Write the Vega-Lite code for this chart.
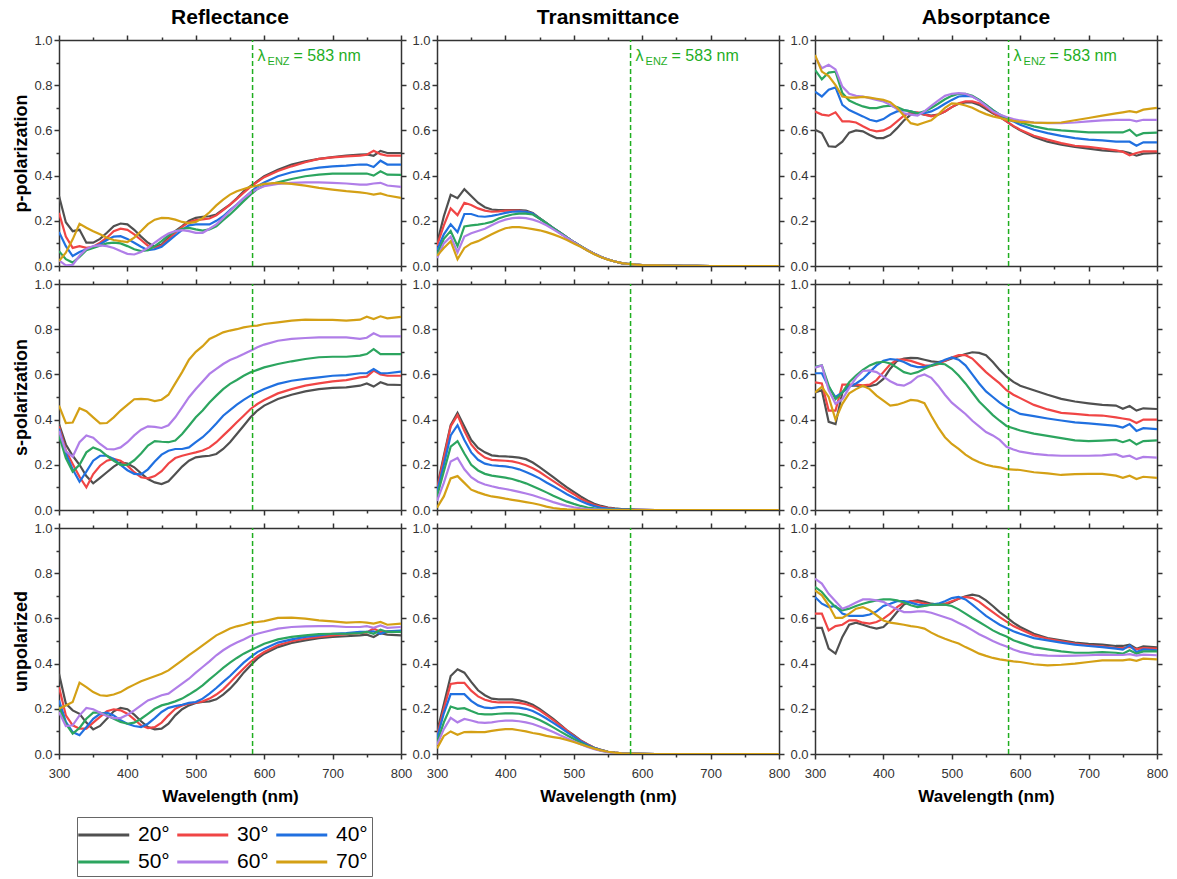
{
"$schema": "https://vega.github.io/schema/vega-lite/v6.json",
"padding": {"left": 12, "top": 7, "right": 10, "bottom": 0},
"config": {
 "font": "Liberation Sans",
 "view": {"stroke": null},
 "range": {"category": ["#505050", "#f04545", "#2070e0", "#2ca55f", "#b07ee8", "#d4a015"]},
 "axis": {"grid": false, "domainColor": "#333333", "domainWidth": 1.5, "tickColor": "#333333", "tickWidth": 1.5, "labelColor": "#333333", "labelFontSize": 13, "labelPadding": 2, "labelFlush": false, "labelOverlap": false, "titleFontSize": 17, "titleFontWeight": "bold", "titleColor": "#000000"},
 "axisX": {"titlePadding": 8, "labelPadding": 8},
 "axisY": {"titlePadding": 3, "titleFontSize": 18},
 "title": {"fontSize": 21, "fontWeight": "bold", "color": "#000000", "anchor": "middle", "offset": 6}
},
"datasets": {
"pR": [
{"w":300,"20°":0.31,"30°":0.235,"40°":0.15,"50°":0.066,"60°":0.025,"70°":0.022},
{"w":310,"20°":0.194,"30°":0.13,"40°":0.088,"50°":0.03,"60°":0.003,"70°":0.059},
{"w":320,"20°":0.154,"30°":0.08,"40°":0.044,"50°":0.015,"60°":0.005,"70°":0.118},
{"w":330,"20°":0.16,"30°":0.088,"40°":0.062,"50°":0.04,"60°":0.045,"70°":0.187},
{"w":340,"20°":0.103,"30°":0.08,"40°":0.074,"50°":0.07,"60°":0.075,"70°":0.169},
{"w":350,"20°":0.103,"30°":0.085,"40°":0.085,"50°":0.08,"60°":0.088,"70°":0.154},
{"w":360,"20°":0.12,"30°":0.103,"40°":0.096,"50°":0.09,"60°":0.091,"70°":0.14},
{"w":370,"20°":0.147,"30°":0.125,"40°":0.115,"50°":0.1,"60°":0.088,"70°":0.125},
{"w":380,"20°":0.176,"30°":0.154,"40°":0.13,"50°":0.103,"60°":0.08,"70°":0.115},
{"w":390,"20°":0.188,"30°":0.165,"40°":0.132,"50°":0.1,"60°":0.066,"70°":0.11},
{"w":400,"20°":0.184,"30°":0.16,"40°":0.12,"50°":0.088,"60°":0.054,"70°":0.106},
{"w":410,"20°":0.16,"30°":0.14,"40°":0.103,"50°":0.074,"60°":0.051,"70°":0.125},
{"w":420,"20°":0.13,"30°":0.115,"40°":0.085,"50°":0.066,"60°":0.062,"70°":0.155},
{"w":430,"20°":0.103,"30°":0.09,"40°":0.07,"50°":0.07,"60°":0.08,"70°":0.185},
{"w":440,"20°":0.085,"30°":0.08,"40°":0.074,"50°":0.088,"60°":0.103,"70°":0.205},
{"w":450,"20°":0.095,"30°":0.09,"40°":0.085,"50°":0.11,"60°":0.125,"70°":0.213},
{"w":460,"20°":0.125,"30°":0.118,"40°":0.11,"50°":0.135,"60°":0.144,"70°":0.212},
{"w":470,"20°":0.154,"30°":0.147,"40°":0.135,"50°":0.154,"60°":0.154,"70°":0.205},
{"w":480,"20°":0.176,"30°":0.173,"40°":0.16,"50°":0.165,"60°":0.159,"70°":0.195},
{"w":490,"20°":0.2,"30°":0.194,"40°":0.18,"50°":0.169,"60°":0.154,"70°":0.19},
{"w":500,"20°":0.213,"30°":0.203,"40°":0.184,"50°":0.162,"60°":0.147,"70°":0.195},
{"w":510,"20°":0.218,"30°":0.206,"40°":0.184,"50°":0.157,"60°":0.147,"70°":0.212},
{"w":520,"20°":0.22,"30°":0.21,"40°":0.184,"50°":0.162,"60°":0.165,"70°":0.238},
{"w":530,"20°":0.228,"30°":0.224,"40°":0.2,"50°":0.176,"60°":0.184,"70°":0.268},
{"w":540,"20°":0.25,"30°":0.247,"40°":0.22,"50°":0.203,"60°":0.213,"70°":0.294},
{"w":550,"20°":0.272,"30°":0.272,"40°":0.247,"50°":0.228,"60°":0.243,"70°":0.316},
{"w":560,"20°":0.3,"30°":0.297,"40°":0.272,"50°":0.257,"60°":0.272,"70°":0.331},
{"w":570,"20°":0.33,"30°":0.324,"40°":0.3,"50°":0.287,"60°":0.3,"70°":0.341},
{"w":580,"20°":0.353,"30°":0.35,"40°":0.326,"50°":0.316,"60°":0.324,"70°":0.35},
{"w":590,"20°":0.375,"30°":0.372,"40°":0.353,"50°":0.341,"60°":0.341,"70°":0.356},
{"w":600,"20°":0.397,"30°":0.393,"40°":0.37,"50°":0.356,"60°":0.353,"70°":0.363},
{"w":620,"20°":0.426,"30°":0.42,"40°":0.397,"50°":0.37,"60°":0.363,"70°":0.368},
{"w":640,"20°":0.449,"30°":0.441,"40°":0.415,"50°":0.385,"60°":0.368,"70°":0.363},
{"w":660,"20°":0.463,"30°":0.459,"40°":0.426,"50°":0.397,"60°":0.37,"70°":0.356},
{"w":680,"20°":0.474,"30°":0.474,"40°":0.435,"50°":0.404,"60°":0.37,"70°":0.346},
{"w":700,"20°":0.482,"30°":0.481,"40°":0.441,"50°":0.409,"60°":0.368,"70°":0.338},
{"w":720,"20°":0.488,"30°":0.485,"40°":0.444,"50°":0.409,"60°":0.365,"70°":0.331},
{"w":740,"20°":0.493,"30°":0.488,"40°":0.449,"50°":0.409,"60°":0.36,"70°":0.326},
{"w":750,"20°":0.494,"30°":0.492,"40°":0.449,"50°":0.409,"60°":0.36,"70°":0.322},
{"w":760,"20°":0.488,"30°":0.51,"40°":0.438,"50°":0.4,"60°":0.365,"70°":0.316},
{"w":770,"20°":0.509,"30°":0.495,"40°":0.466,"50°":0.419,"60°":0.368,"70°":0.321},
{"w":780,"20°":0.5,"30°":0.488,"40°":0.449,"50°":0.404,"60°":0.356,"70°":0.312},
{"w":800,"20°":0.5,"30°":0.488,"40°":0.449,"50°":0.403,"60°":0.35,"70°":0.301}
],
"pT": [
{"w":300,"20°":0.1,"30°":0.09,"40°":0.07,"50°":0.05,"60°":0.035,"70°":0.045},
{"w":310,"20°":0.22,"30°":0.18,"40°":0.14,"50°":0.12,"60°":0.1,"70°":0.08},
{"w":320,"20°":0.315,"30°":0.255,"40°":0.185,"50°":0.155,"60°":0.13,"70°":0.11},
{"w":330,"20°":0.3,"30°":0.225,"40°":0.15,"50°":0.088,"60°":0.06,"70°":0.03},
{"w":340,"20°":0.34,"30°":0.28,"40°":0.23,"50°":0.175,"60°":0.13,"70°":0.08},
{"w":350,"20°":0.31,"30°":0.27,"40°":0.23,"50°":0.18,"60°":0.145,"70°":0.1},
{"w":360,"20°":0.28,"30°":0.255,"40°":0.22,"50°":0.183,"60°":0.155,"70°":0.11},
{"w":370,"20°":0.26,"30°":0.245,"40°":0.218,"50°":0.188,"60°":0.165,"70°":0.125},
{"w":380,"20°":0.25,"30°":0.24,"40°":0.222,"50°":0.195,"60°":0.18,"70°":0.14},
{"w":390,"20°":0.247,"30°":0.242,"40°":0.228,"50°":0.21,"60°":0.195,"70°":0.155},
{"w":400,"20°":0.247,"30°":0.245,"40°":0.235,"50°":0.22,"60°":0.205,"70°":0.167},
{"w":410,"20°":0.247,"30°":0.245,"40°":0.24,"50°":0.228,"60°":0.212,"70°":0.172},
{"w":420,"20°":0.247,"30°":0.245,"40°":0.242,"50°":0.232,"60°":0.214,"70°":0.172},
{"w":430,"20°":0.245,"30°":0.24,"40°":0.24,"50°":0.232,"60°":0.212,"70°":0.168},
{"w":440,"20°":0.235,"30°":0.232,"40°":0.232,"50°":0.228,"60°":0.205,"70°":0.163},
{"w":450,"20°":0.212,"30°":0.21,"40°":0.21,"50°":0.21,"60°":0.195,"70°":0.158},
{"w":460,"20°":0.19,"30°":0.19,"40°":0.19,"50°":0.19,"60°":0.18,"70°":0.15},
{"w":470,"20°":0.168,"30°":0.168,"40°":0.168,"50°":0.168,"60°":0.162,"70°":0.14},
{"w":480,"20°":0.147,"30°":0.147,"40°":0.147,"50°":0.147,"60°":0.143,"70°":0.128},
{"w":490,"20°":0.126,"30°":0.126,"40°":0.126,"50°":0.126,"60°":0.124,"70°":0.115},
{"w":500,"20°":0.106,"30°":0.106,"40°":0.106,"50°":0.106,"60°":0.105,"70°":0.1},
{"w":510,"20°":0.088,"30°":0.088,"40°":0.088,"50°":0.088,"60°":0.087,"70°":0.085},
{"w":520,"20°":0.07,"30°":0.07,"40°":0.07,"50°":0.07,"60°":0.07,"70°":0.068},
{"w":530,"20°":0.054,"30°":0.054,"40°":0.054,"50°":0.054,"60°":0.054,"70°":0.052},
{"w":540,"20°":0.04,"30°":0.04,"40°":0.04,"50°":0.04,"60°":0.04,"70°":0.039},
{"w":550,"20°":0.029,"30°":0.029,"40°":0.029,"50°":0.029,"60°":0.029,"70°":0.028},
{"w":560,"20°":0.02,"30°":0.02,"40°":0.02,"50°":0.02,"60°":0.02,"70°":0.02},
{"w":570,"20°":0.013,"30°":0.013,"40°":0.013,"50°":0.013,"60°":0.013,"70°":0.013},
{"w":580,"20°":0.009,"30°":0.009,"40°":0.009,"50°":0.009,"60°":0.009,"70°":0.009},
{"w":590,"20°":0.006,"30°":0.006,"40°":0.006,"50°":0.006,"60°":0.006,"70°":0.006},
{"w":600,"20°":0.004,"30°":0.004,"40°":0.004,"50°":0.004,"60°":0.004,"70°":0.004},
{"w":620,"20°":0.003,"30°":0.003,"40°":0.003,"50°":0.003,"60°":0.003,"70°":0.003},
{"w":640,"20°":0.002,"30°":0.002,"40°":0.002,"50°":0.002,"60°":0.002,"70°":0.002},
{"w":660,"20°":0.001,"30°":0.001,"40°":0.001,"50°":0.001,"60°":0.001,"70°":0.001},
{"w":680,"20°":0.001,"30°":0.001,"40°":0.001,"50°":0.001,"60°":0.001,"70°":0.001},
{"w":700,"20°":0,"30°":0,"40°":0,"50°":0,"60°":0,"70°":0},
{"w":800,"20°":0,"30°":0,"40°":0,"50°":0,"60°":0,"70°":0}
],
"pA": [
{"w":300,"20°":0.603,"30°":0.684,"40°":0.772,"50°":0.868,"60°":0.926,"70°":0.934},
{"w":310,"20°":0.588,"30°":0.67,"40°":0.75,"50°":0.826,"60°":0.875,"70°":0.86},
{"w":320,"20°":0.53,"30°":0.665,"40°":0.78,"50°":0.856,"60°":0.89,"70°":0.84},
{"w":330,"20°":0.527,"30°":0.68,"40°":0.79,"50°":0.86,"60°":0.87,"70°":0.8},
{"w":340,"20°":0.55,"30°":0.64,"40°":0.713,"50°":0.765,"60°":0.794,"70°":0.75},
{"w":350,"20°":0.59,"30°":0.64,"40°":0.69,"50°":0.732,"60°":0.762,"70°":0.745},
{"w":360,"20°":0.6,"30°":0.635,"40°":0.676,"50°":0.718,"60°":0.753,"70°":0.745},
{"w":370,"20°":0.596,"30°":0.618,"40°":0.662,"50°":0.706,"60°":0.75,"70°":0.748},
{"w":380,"20°":0.58,"30°":0.603,"40°":0.647,"50°":0.699,"60°":0.743,"70°":0.745},
{"w":390,"20°":0.566,"30°":0.596,"40°":0.64,"50°":0.699,"60°":0.735,"70°":0.74},
{"w":400,"20°":0.566,"30°":0.6,"40°":0.65,"50°":0.706,"60°":0.728,"70°":0.735},
{"w":410,"20°":0.58,"30°":0.615,"40°":0.67,"50°":0.709,"60°":0.713,"70°":0.725},
{"w":420,"20°":0.61,"30°":0.64,"40°":0.684,"50°":0.703,"60°":0.694,"70°":0.7},
{"w":430,"20°":0.644,"30°":0.665,"40°":0.69,"50°":0.69,"60°":0.676,"70°":0.665},
{"w":440,"20°":0.67,"30°":0.68,"40°":0.684,"50°":0.684,"60°":0.67,"70°":0.632},
{"w":450,"20°":0.676,"30°":0.68,"40°":0.676,"50°":0.676,"60°":0.665,"70°":0.625},
{"w":460,"20°":0.67,"30°":0.67,"40°":0.676,"50°":0.684,"60°":0.684,"70°":0.635},
{"w":470,"20°":0.665,"30°":0.662,"40°":0.684,"50°":0.699,"60°":0.709,"70°":0.645},
{"w":480,"20°":0.67,"30°":0.67,"40°":0.699,"50°":0.718,"60°":0.732,"70°":0.67},
{"w":490,"20°":0.684,"30°":0.684,"40°":0.718,"50°":0.738,"60°":0.753,"70°":0.7},
{"w":500,"20°":0.703,"30°":0.703,"40°":0.735,"50°":0.753,"60°":0.762,"70°":0.72},
{"w":510,"20°":0.718,"30°":0.72,"40°":0.75,"50°":0.762,"60°":0.765,"70°":0.718},
{"w":520,"20°":0.724,"30°":0.728,"40°":0.753,"50°":0.762,"60°":0.762,"70°":0.71},
{"w":530,"20°":0.724,"30°":0.728,"40°":0.75,"50°":0.753,"60°":0.75,"70°":0.7},
{"w":540,"20°":0.713,"30°":0.72,"40°":0.735,"50°":0.735,"60°":0.732,"70°":0.685},
{"w":550,"20°":0.694,"30°":0.703,"40°":0.713,"50°":0.713,"60°":0.709,"70°":0.672},
{"w":560,"20°":0.676,"30°":0.68,"40°":0.69,"50°":0.69,"60°":0.684,"70°":0.662},
{"w":570,"20°":0.66,"30°":0.66,"40°":0.67,"50°":0.67,"60°":0.67,"70°":0.655},
{"w":580,"20°":0.64,"30°":0.64,"40°":0.65,"50°":0.654,"60°":0.659,"70°":0.648},
{"w":590,"20°":0.618,"30°":0.62,"40°":0.64,"50°":0.644,"60°":0.65,"70°":0.642},
{"w":600,"20°":0.6,"30°":0.603,"40°":0.625,"50°":0.635,"60°":0.644,"70°":0.638},
{"w":620,"20°":0.571,"30°":0.576,"40°":0.603,"50°":0.618,"60°":0.635,"70°":0.634},
{"w":640,"20°":0.55,"30°":0.559,"40°":0.588,"50°":0.606,"60°":0.632,"70°":0.633},
{"w":660,"20°":0.537,"30°":0.544,"40°":0.576,"50°":0.6,"60°":0.632,"70°":0.635},
{"w":680,"20°":0.527,"30°":0.532,"40°":0.566,"50°":0.596,"60°":0.635,"70°":0.645},
{"w":700,"20°":0.519,"30°":0.527,"40°":0.559,"50°":0.591,"60°":0.64,"70°":0.655},
{"w":720,"20°":0.512,"30°":0.52,"40°":0.556,"50°":0.591,"60°":0.644,"70°":0.665},
{"w":740,"20°":0.507,"30°":0.512,"40°":0.55,"50°":0.591,"60°":0.647,"70°":0.675},
{"w":750,"20°":0.507,"30°":0.505,"40°":0.55,"50°":0.591,"60°":0.647,"70°":0.68},
{"w":760,"20°":0.5,"30°":0.49,"40°":0.55,"50°":0.603,"60°":0.647,"70°":0.685},
{"w":770,"20°":0.488,"30°":0.5,"40°":0.532,"50°":0.576,"60°":0.64,"70°":0.68},
{"w":780,"20°":0.497,"30°":0.507,"40°":0.547,"50°":0.588,"60°":0.647,"70°":0.692},
{"w":800,"20°":0.5,"30°":0.507,"40°":0.547,"50°":0.59,"60°":0.647,"70°":0.7}
],
"sR": [
{"w":300,"20°":0.38,"30°":0.37,"40°":0.36,"50°":0.33,"60°":0.35,"70°":0.462},
{"w":310,"20°":0.29,"30°":0.263,"40°":0.25,"50°":0.23,"60°":0.26,"70°":0.385},
{"w":320,"20°":0.24,"30°":0.204,"40°":0.18,"50°":0.17,"60°":0.236,"70°":0.387},
{"w":330,"20°":0.2,"30°":0.147,"40°":0.125,"50°":0.2,"60°":0.3,"70°":0.45},
{"w":340,"20°":0.15,"30°":0.1,"40°":0.17,"50°":0.255,"60°":0.33,"70°":0.437},
{"w":350,"20°":0.118,"30°":0.159,"40°":0.218,"50°":0.277,"60°":0.32,"70°":0.41},
{"w":360,"20°":0.142,"30°":0.196,"40°":0.24,"50°":0.265,"60°":0.292,"70°":0.383},
{"w":370,"20°":0.167,"30°":0.218,"40°":0.24,"50°":0.24,"60°":0.27,"70°":0.385},
{"w":380,"20°":0.192,"30°":0.226,"40°":0.226,"50°":0.218,"60°":0.268,"70°":0.41},
{"w":390,"20°":0.211,"30°":0.218,"40°":0.2,"50°":0.2,"60°":0.277,"70°":0.44},
{"w":400,"20°":0.206,"30°":0.196,"40°":0.176,"50°":0.2,"60°":0.3,"70°":0.465},
{"w":410,"20°":0.189,"30°":0.167,"40°":0.16,"50°":0.22,"60°":0.33,"70°":0.49},
{"w":420,"20°":0.162,"30°":0.145,"40°":0.158,"50°":0.25,"60°":0.355,"70°":0.492},
{"w":430,"20°":0.137,"30°":0.14,"40°":0.18,"50°":0.285,"60°":0.37,"70°":0.49},
{"w":440,"20°":0.122,"30°":0.15,"40°":0.215,"50°":0.305,"60°":0.368,"70°":0.482},
{"w":450,"20°":0.115,"30°":0.172,"40°":0.245,"50°":0.302,"60°":0.363,"70°":0.488},
{"w":460,"20°":0.127,"30°":0.206,"40°":0.262,"50°":0.3,"60°":0.375,"70°":0.51},
{"w":470,"20°":0.159,"30°":0.23,"40°":0.27,"50°":0.307,"60°":0.41,"70°":0.56},
{"w":480,"20°":0.192,"30°":0.24,"40°":0.27,"50°":0.336,"60°":0.454,"70°":0.61},
{"w":490,"20°":0.218,"30°":0.248,"40°":0.277,"50°":0.373,"60°":0.499,"70°":0.665},
{"w":500,"20°":0.233,"30°":0.255,"40°":0.3,"50°":0.41,"60°":0.535,"70°":0.7},
{"w":510,"20°":0.237,"30°":0.263,"40°":0.322,"50°":0.44,"60°":0.569,"70°":0.725},
{"w":520,"20°":0.24,"30°":0.277,"40°":0.351,"50°":0.476,"60°":0.602,"70°":0.757},
{"w":530,"20°":0.248,"30°":0.3,"40°":0.383,"50°":0.506,"60°":0.624,"70°":0.771},
{"w":540,"20°":0.27,"30°":0.329,"40°":0.417,"50°":0.535,"60°":0.646,"70°":0.786},
{"w":550,"20°":0.3,"30°":0.358,"40°":0.442,"50°":0.558,"60°":0.664,"70°":0.794},
{"w":560,"20°":0.336,"30°":0.388,"40°":0.466,"50°":0.575,"60°":0.676,"70°":0.8},
{"w":570,"20°":0.373,"30°":0.417,"40°":0.487,"50°":0.594,"60°":0.69,"70°":0.808},
{"w":580,"20°":0.41,"30°":0.447,"40°":0.506,"50°":0.609,"60°":0.705,"70°":0.813},
{"w":590,"20°":0.44,"30°":0.469,"40°":0.521,"50°":0.62,"60°":0.72,"70°":0.816},
{"w":600,"20°":0.462,"30°":0.487,"40°":0.535,"50°":0.631,"60°":0.732,"70°":0.823},
{"w":620,"20°":0.491,"30°":0.516,"40°":0.558,"50°":0.646,"60°":0.749,"70°":0.83},
{"w":640,"20°":0.51,"30°":0.535,"40°":0.572,"50°":0.658,"60°":0.757,"70°":0.838},
{"w":660,"20°":0.525,"30°":0.55,"40°":0.58,"50°":0.668,"60°":0.761,"70°":0.842},
{"w":680,"20°":0.535,"30°":0.56,"40°":0.587,"50°":0.676,"60°":0.764,"70°":0.841},
{"w":700,"20°":0.54,"30°":0.569,"40°":0.594,"50°":0.678,"60°":0.764,"70°":0.841},
{"w":720,"20°":0.543,"30°":0.575,"40°":0.597,"50°":0.678,"60°":0.764,"70°":0.838},
{"w":740,"20°":0.55,"30°":0.587,"40°":0.605,"50°":0.683,"60°":0.757,"70°":0.842},
{"w":750,"20°":0.56,"30°":0.59,"40°":0.605,"50°":0.69,"60°":0.762,"70°":0.855},
{"w":760,"20°":0.546,"30°":0.617,"40°":0.624,"50°":0.712,"60°":0.782,"70°":0.845},
{"w":770,"20°":0.565,"30°":0.6,"40°":0.605,"50°":0.69,"60°":0.768,"70°":0.857},
{"w":780,"20°":0.555,"30°":0.594,"40°":0.605,"50°":0.69,"60°":0.768,"70°":0.848},
{"w":800,"20°":0.553,"30°":0.594,"40°":0.612,"50°":0.69,"60°":0.768,"70°":0.855}
],
"sT": [
{"w":300,"20°":0.1,"30°":0.09,"40°":0.08,"50°":0.06,"60°":0.04,"70°":0.01},
{"w":310,"20°":0.24,"30°":0.23,"40°":0.2,"50°":0.17,"60°":0.12,"70°":0.06},
{"w":320,"20°":0.375,"30°":0.37,"40°":0.33,"50°":0.28,"60°":0.215,"70°":0.14},
{"w":330,"20°":0.43,"30°":0.42,"40°":0.375,"50°":0.305,"60°":0.23,"70°":0.15},
{"w":340,"20°":0.37,"30°":0.35,"40°":0.31,"50°":0.25,"60°":0.18,"70°":0.12},
{"w":350,"20°":0.31,"30°":0.29,"40°":0.255,"50°":0.2,"60°":0.145,"70°":0.09},
{"w":360,"20°":0.275,"30°":0.255,"40°":0.222,"50°":0.175,"60°":0.125,"70°":0.078},
{"w":370,"20°":0.255,"30°":0.232,"40°":0.205,"50°":0.16,"60°":0.113,"70°":0.068},
{"w":380,"20°":0.242,"30°":0.222,"40°":0.198,"50°":0.152,"60°":0.105,"70°":0.06},
{"w":390,"20°":0.238,"30°":0.22,"40°":0.195,"50°":0.148,"60°":0.098,"70°":0.056},
{"w":400,"20°":0.237,"30°":0.218,"40°":0.193,"50°":0.143,"60°":0.093,"70°":0.05},
{"w":410,"20°":0.235,"30°":0.215,"40°":0.188,"50°":0.137,"60°":0.087,"70°":0.045},
{"w":420,"20°":0.232,"30°":0.208,"40°":0.18,"50°":0.128,"60°":0.08,"70°":0.04},
{"w":430,"20°":0.225,"30°":0.198,"40°":0.168,"50°":0.118,"60°":0.073,"70°":0.035},
{"w":440,"20°":0.21,"30°":0.185,"40°":0.155,"50°":0.105,"60°":0.065,"70°":0.03},
{"w":450,"20°":0.19,"30°":0.168,"40°":0.14,"50°":0.092,"60°":0.055,"70°":0.023},
{"w":460,"20°":0.168,"30°":0.148,"40°":0.122,"50°":0.078,"60°":0.045,"70°":0.015},
{"w":470,"20°":0.145,"30°":0.128,"40°":0.105,"50°":0.063,"60°":0.035,"70°":0.009},
{"w":480,"20°":0.122,"30°":0.108,"40°":0.088,"50°":0.05,"60°":0.026,"70°":0.005},
{"w":490,"20°":0.1,"30°":0.088,"40°":0.07,"50°":0.037,"60°":0.018,"70°":0.003},
{"w":500,"20°":0.08,"30°":0.07,"40°":0.054,"50°":0.027,"60°":0.012,"70°":0.002},
{"w":510,"20°":0.06,"30°":0.05,"40°":0.04,"50°":0.018,"60°":0.007,"70°":0.001},
{"w":520,"20°":0.042,"30°":0.035,"40°":0.027,"50°":0.011,"60°":0.004,"70°":0.001},
{"w":530,"20°":0.028,"30°":0.022,"40°":0.017,"50°":0.007,"60°":0.003,"70°":0},
{"w":540,"20°":0.018,"30°":0.014,"40°":0.01,"50°":0.004,"60°":0.002,"70°":0},
{"w":550,"20°":0.011,"30°":0.008,"40°":0.006,"50°":0.003,"60°":0.001,"70°":0},
{"w":560,"20°":0.007,"30°":0.005,"40°":0.004,"50°":0.002,"60°":0.001,"70°":0},
{"w":570,"20°":0.004,"30°":0.003,"40°":0.002,"50°":0.001,"60°":0,"70°":0},
{"w":580,"20°":0.003,"30°":0.002,"40°":0.002,"50°":0.001,"60°":0,"70°":0},
{"w":590,"20°":0.002,"30°":0.001,"40°":0.001,"50°":0,"60°":0,"70°":0},
{"w":600,"20°":0.001,"30°":0.001,"40°":0.001,"50°":0,"60°":0,"70°":0},
{"w":620,"20°":0,"30°":0,"40°":0,"50°":0,"60°":0,"70°":0},
{"w":800,"20°":0,"30°":0,"40°":0,"50°":0,"60°":0,"70°":0}
],
"sA": [
{"w":300,"20°":0.52,"30°":0.565,"40°":0.605,"50°":0.633,"60°":0.63,"70°":0.52},
{"w":310,"20°":0.53,"30°":0.56,"40°":0.605,"50°":0.64,"60°":0.64,"70°":0.545},
{"w":320,"20°":0.39,"30°":0.44,"40°":0.545,"50°":0.55,"60°":0.53,"70°":0.5},
{"w":330,"20°":0.38,"30°":0.44,"40°":0.5,"50°":0.49,"60°":0.47,"70°":0.4},
{"w":340,"20°":0.52,"30°":0.555,"40°":0.52,"50°":0.52,"60°":0.49,"70°":0.47},
{"w":350,"20°":0.55,"30°":0.555,"40°":0.545,"50°":0.565,"60°":0.54,"70°":0.516},
{"w":360,"20°":0.55,"30°":0.555,"40°":0.56,"50°":0.595,"60°":0.585,"70°":0.535},
{"w":370,"20°":0.548,"30°":0.552,"40°":0.58,"50°":0.62,"60°":0.615,"70°":0.55},
{"w":380,"20°":0.548,"30°":0.555,"40°":0.61,"50°":0.64,"60°":0.618,"70°":0.535},
{"w":390,"20°":0.555,"30°":0.575,"40°":0.64,"50°":0.652,"60°":0.61,"70°":0.506},
{"w":400,"20°":0.58,"30°":0.61,"40°":0.66,"50°":0.656,"60°":0.59,"70°":0.484},
{"w":410,"20°":0.625,"30°":0.645,"40°":0.668,"50°":0.648,"60°":0.57,"70°":0.462},
{"w":420,"20°":0.66,"30°":0.665,"40°":0.665,"50°":0.63,"60°":0.555,"70°":0.466},
{"w":430,"20°":0.67,"30°":0.665,"40°":0.655,"50°":0.61,"60°":0.55,"70°":0.476},
{"w":440,"20°":0.673,"30°":0.66,"40°":0.64,"50°":0.602,"60°":0.565,"70°":0.487},
{"w":450,"20°":0.672,"30°":0.65,"40°":0.632,"50°":0.61,"60°":0.59,"70°":0.484},
{"w":460,"20°":0.665,"30°":0.64,"40°":0.632,"50°":0.625,"60°":0.6,"70°":0.473},
{"w":470,"20°":0.658,"30°":0.638,"40°":0.64,"50°":0.638,"60°":0.585,"70°":0.417},
{"w":480,"20°":0.655,"30°":0.645,"40°":0.65,"50°":0.648,"60°":0.55,"70°":0.366},
{"w":490,"20°":0.66,"30°":0.66,"40°":0.665,"50°":0.645,"60°":0.51,"70°":0.322},
{"w":500,"20°":0.67,"30°":0.675,"40°":0.675,"50°":0.625,"60°":0.475,"70°":0.292},
{"w":510,"20°":0.68,"30°":0.685,"40°":0.665,"50°":0.595,"60°":0.45,"70°":0.27},
{"w":520,"20°":0.69,"30°":0.685,"40°":0.64,"50°":0.56,"60°":0.425,"70°":0.245},
{"w":530,"20°":0.698,"30°":0.67,"40°":0.6,"50°":0.52,"60°":0.395,"70°":0.226},
{"w":540,"20°":0.695,"30°":0.64,"40°":0.56,"50°":0.48,"60°":0.37,"70°":0.211},
{"w":550,"20°":0.685,"30°":0.61,"40°":0.525,"50°":0.45,"60°":0.345,"70°":0.2},
{"w":560,"20°":0.655,"30°":0.585,"40°":0.5,"50°":0.42,"60°":0.33,"70°":0.193},
{"w":570,"20°":0.62,"30°":0.56,"40°":0.475,"50°":0.395,"60°":0.31,"70°":0.189},
{"w":580,"20°":0.59,"30°":0.53,"40°":0.455,"50°":0.372,"60°":0.28,"70°":0.181},
{"w":590,"20°":0.567,"30°":0.51,"40°":0.44,"50°":0.362,"60°":0.268,"70°":0.179},
{"w":600,"20°":0.55,"30°":0.495,"40°":0.425,"50°":0.352,"60°":0.258,"70°":0.177},
{"w":620,"20°":0.53,"30°":0.465,"40°":0.415,"50°":0.338,"60°":0.248,"70°":0.167},
{"w":640,"20°":0.51,"30°":0.445,"40°":0.405,"50°":0.328,"60°":0.243,"70°":0.162},
{"w":660,"20°":0.492,"30°":0.43,"40°":0.396,"50°":0.318,"60°":0.24,"70°":0.155},
{"w":680,"20°":0.48,"30°":0.425,"40°":0.388,"50°":0.308,"60°":0.24,"70°":0.159},
{"w":700,"20°":0.472,"30°":0.42,"40°":0.383,"50°":0.305,"60°":0.24,"70°":0.16},
{"w":720,"20°":0.465,"30°":0.418,"40°":0.378,"50°":0.307,"60°":0.242,"70°":0.16},
{"w":740,"20°":0.462,"30°":0.41,"40°":0.372,"50°":0.31,"60°":0.247,"70°":0.152},
{"w":750,"20°":0.448,"30°":0.405,"40°":0.365,"50°":0.3,"60°":0.235,"70°":0.142},
{"w":760,"20°":0.46,"30°":0.4,"40°":0.38,"50°":0.31,"60°":0.24,"70°":0.152},
{"w":770,"20°":0.44,"30°":0.385,"40°":0.35,"50°":0.29,"60°":0.225,"70°":0.137},
{"w":780,"20°":0.45,"30°":0.4,"40°":0.362,"50°":0.305,"60°":0.235,"70°":0.147},
{"w":800,"20°":0.447,"30°":0.4,"40°":0.358,"50°":0.308,"60°":0.232,"70°":0.142}
],
"uR": [
{"w":300,"20°":0.355,"30°":0.296,"40°":0.237,"50°":0.208,"60°":0.186,"70°":0.2},
{"w":310,"20°":0.223,"30°":0.171,"40°":0.142,"50°":0.134,"60°":0.124,"70°":0.215},
{"w":320,"20°":0.193,"30°":0.127,"40°":0.097,"50°":0.09,"60°":0.127,"70°":0.23},
{"w":330,"20°":0.178,"30°":0.112,"40°":0.083,"50°":0.115,"60°":0.171,"70°":0.316},
{"w":340,"20°":0.139,"30°":0.112,"40°":0.119,"50°":0.156,"60°":0.204,"70°":0.296},
{"w":350,"20°":0.109,"30°":0.139,"40°":0.156,"50°":0.183,"60°":0.198,"70°":0.274},
{"w":360,"20°":0.124,"30°":0.164,"40°":0.178,"50°":0.183,"60°":0.183,"70°":0.26},
{"w":370,"20°":0.156,"30°":0.189,"40°":0.183,"50°":0.171,"60°":0.168,"70°":0.257},
{"w":380,"20°":0.189,"30°":0.198,"40°":0.171,"50°":0.156,"60°":0.159,"70°":0.263},
{"w":390,"20°":0.204,"30°":0.193,"40°":0.149,"50°":0.142,"60°":0.159,"70°":0.274},
{"w":400,"20°":0.198,"30°":0.178,"40°":0.134,"50°":0.134,"60°":0.174,"70°":0.292},
{"w":410,"20°":0.174,"30°":0.153,"40°":0.124,"50°":0.139,"60°":0.193,"70°":0.307},
{"w":420,"20°":0.145,"30°":0.127,"40°":0.119,"50°":0.156,"60°":0.215,"70°":0.322},
{"w":430,"20°":0.119,"30°":0.115,"40°":0.134,"50°":0.178,"60°":0.237,"70°":0.333},
{"w":440,"20°":0.109,"30°":0.119,"40°":0.159,"50°":0.2,"60°":0.248,"70°":0.344},
{"w":450,"20°":0.112,"30°":0.139,"40°":0.186,"50°":0.215,"60°":0.26,"70°":0.355},
{"w":460,"20°":0.134,"30°":0.171,"40°":0.204,"50°":0.223,"60°":0.267,"70°":0.37},
{"w":470,"20°":0.171,"30°":0.2,"40°":0.212,"50°":0.233,"60°":0.289,"70°":0.392},
{"w":480,"20°":0.198,"30°":0.215,"40°":0.218,"50°":0.245,"60°":0.311,"70°":0.414},
{"w":490,"20°":0.215,"30°":0.223,"40°":0.226,"50°":0.263,"60°":0.333,"70°":0.437},
{"w":500,"20°":0.226,"30°":0.227,"40°":0.23,"50°":0.282,"60°":0.36,"70°":0.459},
{"w":510,"20°":0.23,"30°":0.233,"40°":0.245,"50°":0.304,"60°":0.385,"70°":0.481},
{"w":520,"20°":0.233,"30°":0.245,"40°":0.267,"50°":0.33,"60°":0.41,"70°":0.503},
{"w":530,"20°":0.242,"30°":0.263,"40°":0.292,"50°":0.355,"60°":0.437,"70°":0.525},
{"w":540,"20°":0.263,"30°":0.286,"40°":0.319,"50°":0.381,"60°":0.459,"70°":0.54},
{"w":550,"20°":0.289,"30°":0.316,"40°":0.345,"50°":0.404,"60°":0.478,"70°":0.555},
{"w":560,"20°":0.322,"30°":0.348,"40°":0.375,"50°":0.425,"60°":0.493,"70°":0.565},
{"w":570,"20°":0.36,"30°":0.378,"40°":0.404,"50°":0.444,"60°":0.507,"70°":0.572},
{"w":580,"20°":0.392,"30°":0.407,"40°":0.429,"50°":0.459,"60°":0.522,"70°":0.581},
{"w":590,"20°":0.422,"30°":0.432,"40°":0.451,"50°":0.473,"60°":0.532,"70°":0.584},
{"w":600,"20°":0.444,"30°":0.451,"40°":0.466,"50°":0.488,"60°":0.54,"70°":0.588},
{"w":620,"20°":0.473,"30°":0.481,"40°":0.493,"50°":0.507,"60°":0.555,"70°":0.602},
{"w":640,"20°":0.491,"30°":0.499,"40°":0.507,"50°":0.518,"60°":0.562,"70°":0.603},
{"w":660,"20°":0.503,"30°":0.51,"40°":0.518,"50°":0.525,"60°":0.565,"70°":0.599},
{"w":680,"20°":0.513,"30°":0.518,"40°":0.525,"50°":0.53,"60°":0.566,"70°":0.591},
{"w":700,"20°":0.518,"30°":0.525,"40°":0.532,"50°":0.532,"60°":0.566,"70°":0.587},
{"w":720,"20°":0.521,"30°":0.53,"40°":0.535,"50°":0.532,"60°":0.562,"70°":0.581},
{"w":740,"20°":0.525,"30°":0.535,"40°":0.54,"50°":0.535,"60°":0.562,"70°":0.584},
{"w":750,"20°":0.528,"30°":0.538,"40°":0.54,"50°":0.54,"60°":0.566,"70°":0.581},
{"w":760,"20°":0.518,"30°":0.555,"40°":0.543,"50°":0.532,"60°":0.558,"70°":0.577},
{"w":770,"20°":0.535,"30°":0.54,"40°":0.532,"50°":0.55,"60°":0.569,"70°":0.584},
{"w":780,"20°":0.528,"30°":0.543,"40°":0.543,"50°":0.54,"60°":0.558,"70°":0.572},
{"w":800,"20°":0.525,"30°":0.54,"40°":0.546,"50°":0.54,"60°":0.562,"70°":0.577}
],
"uT": [
{"w":300,"20°":0.097,"30°":0.08,"40°":0.07,"50°":0.05,"60°":0.04,"70°":0.025},
{"w":310,"20°":0.22,"30°":0.2,"40°":0.18,"50°":0.14,"60°":0.11,"70°":0.08},
{"w":320,"20°":0.345,"30°":0.31,"40°":0.265,"50°":0.21,"60°":0.16,"70°":0.1},
{"w":330,"20°":0.375,"30°":0.315,"40°":0.265,"50°":0.2,"60°":0.14,"70°":0.085},
{"w":340,"20°":0.36,"30°":0.315,"40°":0.265,"50°":0.203,"60°":0.155,"70°":0.097},
{"w":350,"20°":0.319,"30°":0.28,"40°":0.235,"50°":0.19,"60°":0.148,"70°":0.098},
{"w":360,"20°":0.282,"30°":0.255,"40°":0.215,"50°":0.178,"60°":0.14,"70°":0.097},
{"w":370,"20°":0.26,"30°":0.24,"40°":0.205,"50°":0.175,"60°":0.138,"70°":0.097},
{"w":380,"20°":0.245,"30°":0.232,"40°":0.203,"50°":0.175,"60°":0.14,"70°":0.102},
{"w":390,"20°":0.242,"30°":0.228,"40°":0.207,"50°":0.178,"60°":0.145,"70°":0.107},
{"w":400,"20°":0.242,"30°":0.228,"40°":0.208,"50°":0.18,"60°":0.148,"70°":0.11},
{"w":410,"20°":0.242,"30°":0.228,"40°":0.208,"50°":0.18,"60°":0.148,"70°":0.11},
{"w":420,"20°":0.237,"30°":0.226,"40°":0.205,"50°":0.178,"60°":0.145,"70°":0.105},
{"w":430,"20°":0.23,"30°":0.22,"40°":0.2,"50°":0.172,"60°":0.14,"70°":0.1},
{"w":440,"20°":0.218,"30°":0.21,"40°":0.19,"50°":0.163,"60°":0.133,"70°":0.093},
{"w":450,"20°":0.2,"30°":0.193,"40°":0.175,"50°":0.15,"60°":0.122,"70°":0.088},
{"w":460,"20°":0.178,"30°":0.172,"40°":0.157,"50°":0.135,"60°":0.11,"70°":0.08},
{"w":470,"20°":0.156,"30°":0.15,"40°":0.138,"50°":0.118,"60°":0.097,"70°":0.075},
{"w":480,"20°":0.13,"30°":0.127,"40°":0.118,"50°":0.1,"60°":0.083,"70°":0.07},
{"w":490,"20°":0.105,"30°":0.103,"40°":0.097,"50°":0.083,"60°":0.07,"70°":0.062},
{"w":500,"20°":0.083,"30°":0.08,"40°":0.077,"50°":0.066,"60°":0.056,"70°":0.053},
{"w":510,"20°":0.06,"30°":0.06,"40°":0.057,"50°":0.05,"60°":0.043,"70°":0.043},
{"w":520,"20°":0.043,"30°":0.042,"40°":0.04,"50°":0.035,"60°":0.031,"70°":0.033},
{"w":530,"20°":0.028,"30°":0.028,"40°":0.027,"50°":0.024,"60°":0.021,"70°":0.024},
{"w":540,"20°":0.018,"30°":0.017,"40°":0.017,"50°":0.015,"60°":0.014,"70°":0.016},
{"w":550,"20°":0.01,"30°":0.01,"40°":0.01,"50°":0.009,"60°":0.008,"70°":0.01},
{"w":560,"20°":0.006,"30°":0.006,"40°":0.006,"50°":0.005,"60°":0.005,"70°":0.006},
{"w":570,"20°":0.003,"30°":0.003,"40°":0.003,"50°":0.003,"60°":0.003,"70°":0.003},
{"w":580,"20°":0.002,"30°":0.002,"40°":0.002,"50°":0.002,"60°":0.002,"70°":0.002},
{"w":600,"20°":0.001,"30°":0.001,"40°":0.001,"50°":0.001,"60°":0.001,"70°":0.001},
{"w":620,"20°":0,"30°":0,"40°":0,"50°":0,"60°":0,"70°":0},
{"w":800,"20°":0,"30°":0,"40°":0,"50°":0,"60°":0,"70°":0}
],
"uA": [
{"w":300,"20°":0.558,"30°":0.621,"40°":0.695,"50°":0.739,"60°":0.776,"70°":0.724},
{"w":310,"20°":0.558,"30°":0.621,"40°":0.665,"50°":0.717,"60°":0.754,"70°":0.702},
{"w":320,"20°":0.466,"30°":0.547,"40°":0.65,"50°":0.68,"60°":0.709,"70°":0.658},
{"w":330,"20°":0.444,"30°":0.566,"40°":0.655,"50°":0.65,"60°":0.676,"70°":0.602},
{"w":340,"20°":0.518,"30°":0.572,"40°":0.621,"50°":0.636,"60°":0.643,"70°":0.602},
{"w":350,"20°":0.572,"30°":0.591,"40°":0.611,"50°":0.643,"60°":0.655,"70°":0.621},
{"w":360,"20°":0.581,"30°":0.591,"40°":0.611,"50°":0.655,"60°":0.67,"70°":0.643},
{"w":370,"20°":0.572,"30°":0.581,"40°":0.611,"50°":0.665,"60°":0.684,"70°":0.65},
{"w":380,"20°":0.562,"30°":0.577,"40°":0.617,"50°":0.673,"60°":0.684,"70°":0.636},
{"w":390,"20°":0.555,"30°":0.584,"40°":0.631,"50°":0.68,"60°":0.68,"70°":0.614},
{"w":400,"20°":0.562,"30°":0.599,"40°":0.655,"50°":0.684,"60°":0.673,"70°":0.591},
{"w":410,"20°":0.591,"30°":0.621,"40°":0.665,"50°":0.684,"60°":0.655,"70°":0.581},
{"w":420,"20°":0.628,"30°":0.65,"40°":0.676,"50°":0.68,"60°":0.64,"70°":0.577},
{"w":430,"20°":0.661,"30°":0.67,"40°":0.676,"50°":0.67,"60°":0.628,"70°":0.572},
{"w":440,"20°":0.676,"30°":0.676,"40°":0.67,"50°":0.658,"60°":0.628,"70°":0.566},
{"w":450,"20°":0.68,"30°":0.673,"40°":0.661,"50°":0.65,"60°":0.631,"70°":0.562},
{"w":460,"20°":0.673,"30°":0.665,"40°":0.658,"50°":0.655,"60°":0.631,"70°":0.555},
{"w":470,"20°":0.665,"30°":0.661,"40°":0.661,"50°":0.661,"60°":0.625,"70°":0.537},
{"w":480,"20°":0.661,"30°":0.661,"40°":0.665,"50°":0.661,"60°":0.615,"70°":0.522},
{"w":490,"20°":0.661,"30°":0.665,"40°":0.676,"50°":0.661,"60°":0.605,"70°":0.51},
{"w":500,"20°":0.673,"30°":0.676,"40°":0.69,"50°":0.655,"60°":0.595,"70°":0.499},
{"w":510,"20°":0.687,"30°":0.687,"40°":0.695,"50°":0.64,"60°":0.58,"70°":0.489},
{"w":520,"20°":0.698,"30°":0.695,"40°":0.684,"50°":0.621,"60°":0.565,"70°":0.473},
{"w":530,"20°":0.705,"30°":0.69,"40°":0.661,"50°":0.602,"60°":0.548,"70°":0.459},
{"w":540,"20°":0.699,"30°":0.673,"40°":0.636,"50°":0.584,"60°":0.53,"70°":0.444},
{"w":550,"20°":0.68,"30°":0.65,"40°":0.611,"50°":0.566,"60°":0.515,"70°":0.434},
{"w":560,"20°":0.655,"30°":0.628,"40°":0.591,"50°":0.547,"60°":0.5,"70°":0.425},
{"w":570,"20°":0.628,"30°":0.606,"40°":0.572,"50°":0.532,"60°":0.487,"70°":0.419},
{"w":580,"20°":0.606,"30°":0.586,"40°":0.558,"50°":0.52,"60°":0.476,"70°":0.414},
{"w":590,"20°":0.581,"30°":0.566,"40°":0.543,"50°":0.503,"60°":0.462,"70°":0.41},
{"w":600,"20°":0.562,"30°":0.552,"40°":0.532,"50°":0.493,"60°":0.452,"70°":0.407},
{"w":620,"20°":0.532,"30°":0.525,"40°":0.513,"50°":0.473,"60°":0.44,"70°":0.397},
{"w":640,"20°":0.513,"30°":0.51,"40°":0.503,"50°":0.463,"60°":0.435,"70°":0.392},
{"w":660,"20°":0.503,"30°":0.499,"40°":0.493,"50°":0.454,"60°":0.434,"70°":0.395},
{"w":680,"20°":0.493,"30°":0.489,"40°":0.484,"50°":0.448,"60°":0.435,"70°":0.4},
{"w":700,"20°":0.487,"30°":0.481,"40°":0.478,"50°":0.448,"60°":0.437,"70°":0.407},
{"w":720,"20°":0.484,"30°":0.476,"40°":0.473,"50°":0.451,"60°":0.44,"70°":0.414},
{"w":740,"20°":0.478,"30°":0.469,"40°":0.466,"50°":0.448,"60°":0.438,"70°":0.414},
{"w":750,"20°":0.478,"30°":0.469,"40°":0.462,"50°":0.444,"60°":0.438,"70°":0.414},
{"w":760,"20°":0.484,"30°":0.474,"40°":0.481,"50°":0.459,"60°":0.442,"70°":0.419},
{"w":770,"20°":0.466,"30°":0.463,"40°":0.451,"50°":0.444,"60°":0.435,"70°":0.412},
{"w":780,"20°":0.476,"30°":0.469,"40°":0.463,"50°":0.454,"60°":0.44,"70°":0.422},
{"w":800,"20°":0.472,"30°":0.466,"40°":0.459,"50°":0.454,"60°":0.437,"70°":0.419}
]
},
"columns": 3,
"spacing": {"row": 18, "column": 36},
"bounds": "flush",
"resolve": {"scale": {"color": "shared"}, "legend": {"color": "shared"}},
"concat": [
{"width": 342, "height": 226, "title": {"text": "Reflectance"},
 "layer": [
  {"data": {"name": "pR"}, "transform": [{"fold": ["20°","30°","40°","50°","60°","70°"], "as": ["angle","v"]}],
   "mark": {"type": "line", "strokeWidth": 2.2, "clip": true},
   "encoding": {
    "x": {"field": "w", "type": "quantitative", "scale": {"domain": [300,800], "nice": false}, "axis": {"orient": "bottom", "values": [300,350,400,450,500,550,600,650,700,750,800], "labels": false, "title": null, "tickSize": {"condition": {"test": "datum.value%100==0", "value": 5}, "value": 3}}},
    "y": {"field": "v", "type": "quantitative", "scale": {"domain": [0,1], "nice": false}, "axis": {"orient": "left", "values": [0,0.1,0.2,0.3,0.4,0.5,0.6,0.7,0.8,0.9,1], "format": ".1f", "labelExpr": "round(datum.value*10)%2==0?datum.label:''", "title": "p-polarization", "tickSize": {"condition": {"test": "round(datum.value*10)%2==0", "value": 5}, "value": 3}}},
    "color": {"field": "angle", "type": "nominal", "legend": {"orient": "none", "legendX": 18, "legendY": 777, "direction": "horizontal", "columns": 3, "title": null, "symbolType": "M-1.34,0H2.74", "symbolSize": 625, "symbolStrokeWidth": 3, "labelFontSize": 21, "labelOffset": 29, "columnPadding": 1, "rowPadding": 3, "padding": 4, "strokeColor": "#666666", "fillColor": "#ffffff", "labelColor": "#000000", "labelLimit": 0}}
   }},
  {"data": {"values": [{"x": 583}]}, "mark": {"type": "rule", "color": "#1fae1f", "strokeDash": [5,3], "strokeWidth": 1.5},
   "encoding": {
    "x": {"field": "x", "type": "quantitative", "scale": {"domain": [300,800], "nice": false}, "axis": {"orient": "top", "values": [300,350,400,450,500,550,600,650,700,750,800], "labels": false, "title": null, "tickSize": {"condition": {"test": "datum.value%100==0", "value": 5}, "value": 3}}},
    "y": {"datum": 0, "type": "quantitative", "scale": {"domain": [0,1], "nice": false}, "axis": {"orient": "right", "values": [0,0.1,0.2,0.3,0.4,0.5,0.6,0.7,0.8,0.9,1], "labels": false, "title": null, "tickSize": {"condition": {"test": "round(datum.value*10)%2==0", "value": 5}, "value": 3}}},
    "y2": {"datum": 1}
   }},
  {"data": {"values": [{"x": 583}]}, "mark": {"type": "text", "text": "λ", "align": "left", "baseline": "alphabetic", "dx": 5, "fontSize": 16, "color": "#1fae1f"},
   "encoding": {"x": {"field": "x", "type": "quantitative", "axis": null}, "y": {"datum": 0.909, "type": "quantitative", "axis": null}}},
  {"data": {"values": [{"x": 583}]}, "mark": {"type": "text", "text": "ENZ", "align": "left", "baseline": "alphabetic", "dx": 15, "fontSize": 11, "color": "#1fae1f"},
   "encoding": {"x": {"field": "x", "type": "quantitative", "axis": null}, "y": {"datum": 0.89, "type": "quantitative", "axis": null}}},
  {"data": {"values": [{"x": 583}]}, "mark": {"type": "text", "text": "= 583 nm", "align": "left", "baseline": "alphabetic", "dx": 41, "fontSize": 16, "color": "#1fae1f"},
   "encoding": {"x": {"field": "x", "type": "quantitative", "axis": null}, "y": {"datum": 0.909, "type": "quantitative", "axis": null}}}
 ],
 "resolve": {"axis": {"x": "independent", "y": "independent"}}},
{"width": 342, "height": 226, "title": {"text": "Transmittance"},
 "layer": [
  {"data": {"name": "pT"}, "transform": [{"fold": ["20°","30°","40°","50°","60°","70°"], "as": ["angle","v"]}],
   "mark": {"type": "line", "strokeWidth": 2.2, "clip": true},
   "encoding": {
    "x": {"field": "w", "type": "quantitative", "scale": {"domain": [300,800], "nice": false}, "axis": {"orient": "bottom", "values": [300,350,400,450,500,550,600,650,700,750,800], "labels": false, "title": null, "tickSize": {"condition": {"test": "datum.value%100==0", "value": 5}, "value": 3}}},
    "y": {"field": "v", "type": "quantitative", "scale": {"domain": [0,1], "nice": false}, "axis": {"orient": "left", "values": [0,0.1,0.2,0.3,0.4,0.5,0.6,0.7,0.8,0.9,1], "format": ".1f", "labelExpr": "round(datum.value*10)%2==0?datum.label:''", "title": null, "tickSize": {"condition": {"test": "round(datum.value*10)%2==0", "value": 5}, "value": 3}}},
    "color": {"field": "angle", "type": "nominal"}
   }},
  {"data": {"values": [{"x": 583}]}, "mark": {"type": "rule", "color": "#1fae1f", "strokeDash": [5,3], "strokeWidth": 1.5},
   "encoding": {
    "x": {"field": "x", "type": "quantitative", "scale": {"domain": [300,800], "nice": false}, "axis": {"orient": "top", "values": [300,350,400,450,500,550,600,650,700,750,800], "labels": false, "title": null, "tickSize": {"condition": {"test": "datum.value%100==0", "value": 5}, "value": 3}}},
    "y": {"datum": 0, "type": "quantitative", "scale": {"domain": [0,1], "nice": false}, "axis": {"orient": "right", "values": [0,0.1,0.2,0.3,0.4,0.5,0.6,0.7,0.8,0.9,1], "labels": false, "title": null, "tickSize": {"condition": {"test": "round(datum.value*10)%2==0", "value": 5}, "value": 3}}},
    "y2": {"datum": 1}
   }},
  {"data": {"values": [{"x": 583}]}, "mark": {"type": "text", "text": "λ", "align": "left", "baseline": "alphabetic", "dx": 5, "fontSize": 16, "color": "#1fae1f"},
   "encoding": {"x": {"field": "x", "type": "quantitative", "axis": null}, "y": {"datum": 0.909, "type": "quantitative", "axis": null}}},
  {"data": {"values": [{"x": 583}]}, "mark": {"type": "text", "text": "ENZ", "align": "left", "baseline": "alphabetic", "dx": 15, "fontSize": 11, "color": "#1fae1f"},
   "encoding": {"x": {"field": "x", "type": "quantitative", "axis": null}, "y": {"datum": 0.89, "type": "quantitative", "axis": null}}},
  {"data": {"values": [{"x": 583}]}, "mark": {"type": "text", "text": "= 583 nm", "align": "left", "baseline": "alphabetic", "dx": 41, "fontSize": 16, "color": "#1fae1f"},
   "encoding": {"x": {"field": "x", "type": "quantitative", "axis": null}, "y": {"datum": 0.909, "type": "quantitative", "axis": null}}}
 ],
 "resolve": {"axis": {"x": "independent", "y": "independent"}}},
{"width": 342, "height": 226, "title": {"text": "Absorptance"},
 "layer": [
  {"data": {"name": "pA"}, "transform": [{"fold": ["20°","30°","40°","50°","60°","70°"], "as": ["angle","v"]}],
   "mark": {"type": "line", "strokeWidth": 2.2, "clip": true},
   "encoding": {
    "x": {"field": "w", "type": "quantitative", "scale": {"domain": [300,800], "nice": false}, "axis": {"orient": "bottom", "values": [300,350,400,450,500,550,600,650,700,750,800], "labels": false, "title": null, "tickSize": {"condition": {"test": "datum.value%100==0", "value": 5}, "value": 3}}},
    "y": {"field": "v", "type": "quantitative", "scale": {"domain": [0,1], "nice": false}, "axis": {"orient": "left", "values": [0,0.1,0.2,0.3,0.4,0.5,0.6,0.7,0.8,0.9,1], "format": ".1f", "labelExpr": "round(datum.value*10)%2==0?datum.label:''", "title": null, "tickSize": {"condition": {"test": "round(datum.value*10)%2==0", "value": 5}, "value": 3}}},
    "color": {"field": "angle", "type": "nominal"}
   }},
  {"data": {"values": [{"x": 583}]}, "mark": {"type": "rule", "color": "#1fae1f", "strokeDash": [5,3], "strokeWidth": 1.5},
   "encoding": {
    "x": {"field": "x", "type": "quantitative", "scale": {"domain": [300,800], "nice": false}, "axis": {"orient": "top", "values": [300,350,400,450,500,550,600,650,700,750,800], "labels": false, "title": null, "tickSize": {"condition": {"test": "datum.value%100==0", "value": 5}, "value": 3}}},
    "y": {"datum": 0, "type": "quantitative", "scale": {"domain": [0,1], "nice": false}, "axis": {"orient": "right", "values": [0,0.1,0.2,0.3,0.4,0.5,0.6,0.7,0.8,0.9,1], "labels": false, "title": null, "tickSize": {"condition": {"test": "round(datum.value*10)%2==0", "value": 5}, "value": 3}}},
    "y2": {"datum": 1}
   }},
  {"data": {"values": [{"x": 583}]}, "mark": {"type": "text", "text": "λ", "align": "left", "baseline": "alphabetic", "dx": 5, "fontSize": 16, "color": "#1fae1f"},
   "encoding": {"x": {"field": "x", "type": "quantitative", "axis": null}, "y": {"datum": 0.909, "type": "quantitative", "axis": null}}},
  {"data": {"values": [{"x": 583}]}, "mark": {"type": "text", "text": "ENZ", "align": "left", "baseline": "alphabetic", "dx": 15, "fontSize": 11, "color": "#1fae1f"},
   "encoding": {"x": {"field": "x", "type": "quantitative", "axis": null}, "y": {"datum": 0.89, "type": "quantitative", "axis": null}}},
  {"data": {"values": [{"x": 583}]}, "mark": {"type": "text", "text": "= 583 nm", "align": "left", "baseline": "alphabetic", "dx": 41, "fontSize": 16, "color": "#1fae1f"},
   "encoding": {"x": {"field": "x", "type": "quantitative", "axis": null}, "y": {"datum": 0.909, "type": "quantitative", "axis": null}}}
 ],
 "resolve": {"axis": {"x": "independent", "y": "independent"}}},
{"width": 342, "height": 226,
 "layer": [
  {"data": {"name": "sR"}, "transform": [{"fold": ["20°","30°","40°","50°","60°","70°"], "as": ["angle","v"]}],
   "mark": {"type": "line", "strokeWidth": 2.2, "clip": true},
   "encoding": {
    "x": {"field": "w", "type": "quantitative", "scale": {"domain": [300,800], "nice": false}, "axis": {"orient": "bottom", "values": [300,350,400,450,500,550,600,650,700,750,800], "labels": false, "title": null, "tickSize": {"condition": {"test": "datum.value%100==0", "value": 5}, "value": 3}}},
    "y": {"field": "v", "type": "quantitative", "scale": {"domain": [0,1], "nice": false}, "axis": {"orient": "left", "values": [0,0.1,0.2,0.3,0.4,0.5,0.6,0.7,0.8,0.9,1], "format": ".1f", "labelExpr": "round(datum.value*10)%2==0?datum.label:''", "title": "s-polarization", "tickSize": {"condition": {"test": "round(datum.value*10)%2==0", "value": 5}, "value": 3}}},
    "color": {"field": "angle", "type": "nominal"}
   }},
  {"data": {"values": [{"x": 583}]}, "mark": {"type": "rule", "color": "#1fae1f", "strokeDash": [5,3], "strokeWidth": 1.5},
   "encoding": {
    "x": {"field": "x", "type": "quantitative", "scale": {"domain": [300,800], "nice": false}, "axis": {"orient": "top", "values": [300,350,400,450,500,550,600,650,700,750,800], "labels": false, "title": null, "tickSize": {"condition": {"test": "datum.value%100==0", "value": 5}, "value": 3}}},
    "y": {"datum": 0, "type": "quantitative", "scale": {"domain": [0,1], "nice": false}, "axis": {"orient": "right", "values": [0,0.1,0.2,0.3,0.4,0.5,0.6,0.7,0.8,0.9,1], "labels": false, "title": null, "tickSize": {"condition": {"test": "round(datum.value*10)%2==0", "value": 5}, "value": 3}}},
    "y2": {"datum": 1}
   }}
 ],
 "resolve": {"axis": {"x": "independent", "y": "independent"}}},
{"width": 342, "height": 226,
 "layer": [
  {"data": {"name": "sT"}, "transform": [{"fold": ["20°","30°","40°","50°","60°","70°"], "as": ["angle","v"]}],
   "mark": {"type": "line", "strokeWidth": 2.2, "clip": true},
   "encoding": {
    "x": {"field": "w", "type": "quantitative", "scale": {"domain": [300,800], "nice": false}, "axis": {"orient": "bottom", "values": [300,350,400,450,500,550,600,650,700,750,800], "labels": false, "title": null, "tickSize": {"condition": {"test": "datum.value%100==0", "value": 5}, "value": 3}}},
    "y": {"field": "v", "type": "quantitative", "scale": {"domain": [0,1], "nice": false}, "axis": {"orient": "left", "values": [0,0.1,0.2,0.3,0.4,0.5,0.6,0.7,0.8,0.9,1], "format": ".1f", "labelExpr": "round(datum.value*10)%2==0?datum.label:''", "title": null, "tickSize": {"condition": {"test": "round(datum.value*10)%2==0", "value": 5}, "value": 3}}},
    "color": {"field": "angle", "type": "nominal"}
   }},
  {"data": {"values": [{"x": 583}]}, "mark": {"type": "rule", "color": "#1fae1f", "strokeDash": [5,3], "strokeWidth": 1.5},
   "encoding": {
    "x": {"field": "x", "type": "quantitative", "scale": {"domain": [300,800], "nice": false}, "axis": {"orient": "top", "values": [300,350,400,450,500,550,600,650,700,750,800], "labels": false, "title": null, "tickSize": {"condition": {"test": "datum.value%100==0", "value": 5}, "value": 3}}},
    "y": {"datum": 0, "type": "quantitative", "scale": {"domain": [0,1], "nice": false}, "axis": {"orient": "right", "values": [0,0.1,0.2,0.3,0.4,0.5,0.6,0.7,0.8,0.9,1], "labels": false, "title": null, "tickSize": {"condition": {"test": "round(datum.value*10)%2==0", "value": 5}, "value": 3}}},
    "y2": {"datum": 1}
   }}
 ],
 "resolve": {"axis": {"x": "independent", "y": "independent"}}},
{"width": 342, "height": 226,
 "layer": [
  {"data": {"name": "sA"}, "transform": [{"fold": ["20°","30°","40°","50°","60°","70°"], "as": ["angle","v"]}],
   "mark": {"type": "line", "strokeWidth": 2.2, "clip": true},
   "encoding": {
    "x": {"field": "w", "type": "quantitative", "scale": {"domain": [300,800], "nice": false}, "axis": {"orient": "bottom", "values": [300,350,400,450,500,550,600,650,700,750,800], "labels": false, "title": null, "tickSize": {"condition": {"test": "datum.value%100==0", "value": 5}, "value": 3}}},
    "y": {"field": "v", "type": "quantitative", "scale": {"domain": [0,1], "nice": false}, "axis": {"orient": "left", "values": [0,0.1,0.2,0.3,0.4,0.5,0.6,0.7,0.8,0.9,1], "format": ".1f", "labelExpr": "round(datum.value*10)%2==0?datum.label:''", "title": null, "tickSize": {"condition": {"test": "round(datum.value*10)%2==0", "value": 5}, "value": 3}}},
    "color": {"field": "angle", "type": "nominal"}
   }},
  {"data": {"values": [{"x": 583}]}, "mark": {"type": "rule", "color": "#1fae1f", "strokeDash": [5,3], "strokeWidth": 1.5},
   "encoding": {
    "x": {"field": "x", "type": "quantitative", "scale": {"domain": [300,800], "nice": false}, "axis": {"orient": "top", "values": [300,350,400,450,500,550,600,650,700,750,800], "labels": false, "title": null, "tickSize": {"condition": {"test": "datum.value%100==0", "value": 5}, "value": 3}}},
    "y": {"datum": 0, "type": "quantitative", "scale": {"domain": [0,1], "nice": false}, "axis": {"orient": "right", "values": [0,0.1,0.2,0.3,0.4,0.5,0.6,0.7,0.8,0.9,1], "labels": false, "title": null, "tickSize": {"condition": {"test": "round(datum.value*10)%2==0", "value": 5}, "value": 3}}},
    "y2": {"datum": 1}
   }}
 ],
 "resolve": {"axis": {"x": "independent", "y": "independent"}}},
{"width": 342, "height": 226,
 "layer": [
  {"data": {"name": "uR"}, "transform": [{"fold": ["20°","30°","40°","50°","60°","70°"], "as": ["angle","v"]}],
   "mark": {"type": "line", "strokeWidth": 2.2, "clip": true},
   "encoding": {
    "x": {"field": "w", "type": "quantitative", "scale": {"domain": [300,800], "nice": false}, "axis": {"orient": "bottom", "values": [300,350,400,450,500,550,600,650,700,750,800], "format": "d", "labelExpr": "datum.value%100==0?datum.label:''", "title": "Wavelength (nm)", "tickSize": {"condition": {"test": "datum.value%100==0", "value": 5}, "value": 3}}},
    "y": {"field": "v", "type": "quantitative", "scale": {"domain": [0,1], "nice": false}, "axis": {"orient": "left", "values": [0,0.1,0.2,0.3,0.4,0.5,0.6,0.7,0.8,0.9,1], "format": ".1f", "labelExpr": "round(datum.value*10)%2==0?datum.label:''", "title": "unpolarized", "tickSize": {"condition": {"test": "round(datum.value*10)%2==0", "value": 5}, "value": 3}}},
    "color": {"field": "angle", "type": "nominal"}
   }},
  {"data": {"values": [{"x": 583}]}, "mark": {"type": "rule", "color": "#1fae1f", "strokeDash": [5,3], "strokeWidth": 1.5},
   "encoding": {
    "x": {"field": "x", "type": "quantitative", "scale": {"domain": [300,800], "nice": false}, "axis": {"orient": "top", "values": [300,350,400,450,500,550,600,650,700,750,800], "labels": false, "title": null, "tickSize": {"condition": {"test": "datum.value%100==0", "value": 5}, "value": 3}}},
    "y": {"datum": 0, "type": "quantitative", "scale": {"domain": [0,1], "nice": false}, "axis": {"orient": "right", "values": [0,0.1,0.2,0.3,0.4,0.5,0.6,0.7,0.8,0.9,1], "labels": false, "title": null, "tickSize": {"condition": {"test": "round(datum.value*10)%2==0", "value": 5}, "value": 3}}},
    "y2": {"datum": 1}
   }}
 ],
 "resolve": {"axis": {"x": "independent", "y": "independent"}}},
{"width": 342, "height": 226,
 "layer": [
  {"data": {"name": "uT"}, "transform": [{"fold": ["20°","30°","40°","50°","60°","70°"], "as": ["angle","v"]}],
   "mark": {"type": "line", "strokeWidth": 2.2, "clip": true},
   "encoding": {
    "x": {"field": "w", "type": "quantitative", "scale": {"domain": [300,800], "nice": false}, "axis": {"orient": "bottom", "values": [300,350,400,450,500,550,600,650,700,750,800], "format": "d", "labelExpr": "datum.value%100==0?datum.label:''", "title": "Wavelength (nm)", "tickSize": {"condition": {"test": "datum.value%100==0", "value": 5}, "value": 3}}},
    "y": {"field": "v", "type": "quantitative", "scale": {"domain": [0,1], "nice": false}, "axis": {"orient": "left", "values": [0,0.1,0.2,0.3,0.4,0.5,0.6,0.7,0.8,0.9,1], "format": ".1f", "labelExpr": "round(datum.value*10)%2==0?datum.label:''", "title": null, "tickSize": {"condition": {"test": "round(datum.value*10)%2==0", "value": 5}, "value": 3}}},
    "color": {"field": "angle", "type": "nominal"}
   }},
  {"data": {"values": [{"x": 583}]}, "mark": {"type": "rule", "color": "#1fae1f", "strokeDash": [5,3], "strokeWidth": 1.5},
   "encoding": {
    "x": {"field": "x", "type": "quantitative", "scale": {"domain": [300,800], "nice": false}, "axis": {"orient": "top", "values": [300,350,400,450,500,550,600,650,700,750,800], "labels": false, "title": null, "tickSize": {"condition": {"test": "datum.value%100==0", "value": 5}, "value": 3}}},
    "y": {"datum": 0, "type": "quantitative", "scale": {"domain": [0,1], "nice": false}, "axis": {"orient": "right", "values": [0,0.1,0.2,0.3,0.4,0.5,0.6,0.7,0.8,0.9,1], "labels": false, "title": null, "tickSize": {"condition": {"test": "round(datum.value*10)%2==0", "value": 5}, "value": 3}}},
    "y2": {"datum": 1}
   }}
 ],
 "resolve": {"axis": {"x": "independent", "y": "independent"}}},
{"width": 342, "height": 226,
 "layer": [
  {"data": {"name": "uA"}, "transform": [{"fold": ["20°","30°","40°","50°","60°","70°"], "as": ["angle","v"]}],
   "mark": {"type": "line", "strokeWidth": 2.2, "clip": true},
   "encoding": {
    "x": {"field": "w", "type": "quantitative", "scale": {"domain": [300,800], "nice": false}, "axis": {"orient": "bottom", "values": [300,350,400,450,500,550,600,650,700,750,800], "format": "d", "labelExpr": "datum.value%100==0?datum.label:''", "title": "Wavelength (nm)", "tickSize": {"condition": {"test": "datum.value%100==0", "value": 5}, "value": 3}}},
    "y": {"field": "v", "type": "quantitative", "scale": {"domain": [0,1], "nice": false}, "axis": {"orient": "left", "values": [0,0.1,0.2,0.3,0.4,0.5,0.6,0.7,0.8,0.9,1], "format": ".1f", "labelExpr": "round(datum.value*10)%2==0?datum.label:''", "title": null, "tickSize": {"condition": {"test": "round(datum.value*10)%2==0", "value": 5}, "value": 3}}},
    "color": {"field": "angle", "type": "nominal"}
   }},
  {"data": {"values": [{"x": 583}]}, "mark": {"type": "rule", "color": "#1fae1f", "strokeDash": [5,3], "strokeWidth": 1.5},
   "encoding": {
    "x": {"field": "x", "type": "quantitative", "scale": {"domain": [300,800], "nice": false}, "axis": {"orient": "top", "values": [300,350,400,450,500,550,600,650,700,750,800], "labels": false, "title": null, "tickSize": {"condition": {"test": "datum.value%100==0", "value": 5}, "value": 3}}},
    "y": {"datum": 0, "type": "quantitative", "scale": {"domain": [0,1], "nice": false}, "axis": {"orient": "right", "values": [0,0.1,0.2,0.3,0.4,0.5,0.6,0.7,0.8,0.9,1], "labels": false, "title": null, "tickSize": {"condition": {"test": "round(datum.value*10)%2==0", "value": 5}, "value": 3}}},
    "y2": {"datum": 1}
   }}
 ],
 "resolve": {"axis": {"x": "independent", "y": "independent"}}}
]
}
